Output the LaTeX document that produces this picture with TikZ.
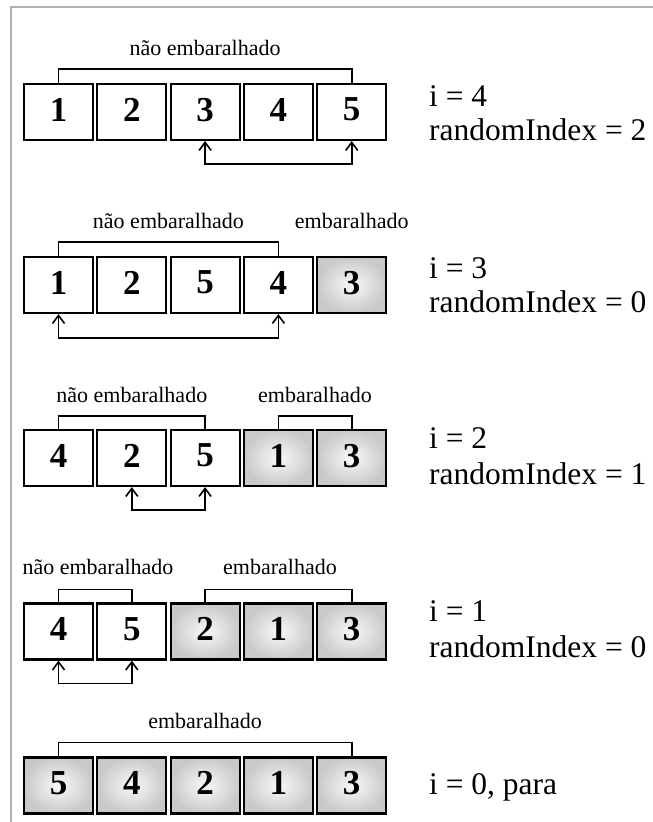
\documentclass[tikz,border=0pt]{standalone}
\usepackage{fontspec}
\setmainfont{Liberation Serif}
\usetikzlibrary{arrows.meta}
\begin{document}
\begin{tikzpicture}[x=1pt,y=-1pt,
  box/.style={draw=black, line width=2.2pt, minimum width=69pt, minimum height=56pt,
    inner sep=0pt, text depth=5pt, font=\fontsize{35}{35}\selectfont\bfseries},
  gbox/.style={box, inner color=gray!5, outer color=gray!42},
  bracket/.style={line width=1.7pt},
  swap/.style={line width=1.6pt, {Straight Barb[length=8pt,width=12pt]}-{Straight Barb[length=8pt,width=12pt]}},
  lbl/.style={anchor=base, inner sep=0pt, font=\fontsize{22}{22}\selectfont},
  info/.style={anchor=base west, inner sep=0pt, font=\fontsize{31.5}{31.5}\selectfont},
  frameline/.style={draw=gray!60, line width=1.3pt}]
\useasboundingbox (0,0) rectangle (653,822);
\draw[frameline] (653,7) -- (11,7) -- (11,822);

% ---------------- row 1 ----------------
\node[box] (a1) at (58.5,112) {1};
\node[box] (a2) at (131.8,112) {2};
\node[box] (a3) at (205.1,112) {3};
\node[box] (a4) at (278.4,112) {4};
\node[box] (a5) at (351.7,112) {5};
\draw[bracket] (a1.north) -- ++(0,-14) -| (a5.north);
\node[lbl] (la1) at (205.1,55) {não embaralhado};
\draw[swap] (a3.south) -- ++(0,23) -| (a5.south);
\node[info] (ia1) at (429,106) {i = 4};
\node[info] (ra1) at (429,140) {randomIndex = 2};

% ---------------- row 2 ----------------
\node[box] (b1) at (58.5,285) {1};
\node[box] (b2) at (131.8,285) {2};
\node[box] (b3) at (205.1,285) {5};
\node[box] (b4) at (278.4,285) {4};
\node[gbox] (b5) at (351.7,285) {3};
\draw[bracket] (b1.north) -- ++(0,-14) -| (b4.north);
\node[lbl] (lb1) at (168.4,228) {não embaralhado};
\node[lbl] (lb2) at (351.7,228) {embaralhado};
\draw[swap] (b1.south) -- ++(0,24) -| (b4.south);
\node[info] (ib1) at (429,278) {i = 3};
\node[info] (rb1) at (429,312) {randomIndex = 0};

% ---------------- row 3 ----------------
\node[box] (c1) at (58.5,458) {4};
\node[box] (c2) at (131.8,458) {2};
\node[box] (c3) at (205.1,458) {5};
\node[gbox] (c4) at (278.4,458) {1};
\node[gbox] (c5) at (351.7,458) {3};
\draw[bracket] (c1.north) -- ++(0,-13) -| (c3.north);
\draw[bracket] (c4.north) -- ++(0,-13) -| (c5.north);
\node[lbl] (lc1) at (131.8,402) {não embaralhado};
\node[lbl] (lc2) at (315,402) {embaralhado};
\draw[swap] (c2.south) -- ++(0,23) -| (c3.south);
\node[info] (ic1) at (429,448) {i = 2};
\node[info] (rc1) at (429,484) {randomIndex = 1};

% ---------------- row 4 ----------------
\node[box] (d1) at (58.5,631.5) {4};
\node[box] (d2) at (131.8,631.5) {5};
\node[gbox] (d3) at (205.1,631.5) {2};
\node[gbox] (d4) at (278.4,631.5) {1};
\node[gbox] (d5) at (351.7,631.5) {3};
\draw[bracket] (d1.north) -- ++(0,-13) -| (d2.north);
\draw[bracket] (d3.north) -- ++(0,-13) -| (d5.north);
\node[lbl] (ld1) at (98,574) {não embaralhado};
\node[lbl] (ld2) at (280,574) {embaralhado};
\draw[swap] (d1.south) -- ++(0,23) -| (d2.south);
\node[info] (id1) at (429,621) {i = 1};
\node[info] (rd1) at (429,657) {randomIndex = 0};

% ---------------- row 5 ----------------
\node[gbox] (e1) at (58.5,785.5) {5};
\node[gbox] (e2) at (131.8,785.5) {4};
\node[gbox] (e3) at (205.1,785.5) {2};
\node[gbox] (e4) at (278.4,785.5) {1};
\node[gbox] (e5) at (351.7,785.5) {3};
\draw[bracket] (e1.north) -- ++(0,-14) -| (e5.north);
\node[lbl] (le1) at (205.1,728) {embaralhado};
\node[info] (ie1) at (429,794) {i = 0, para};
\end{tikzpicture}
\end{document}
